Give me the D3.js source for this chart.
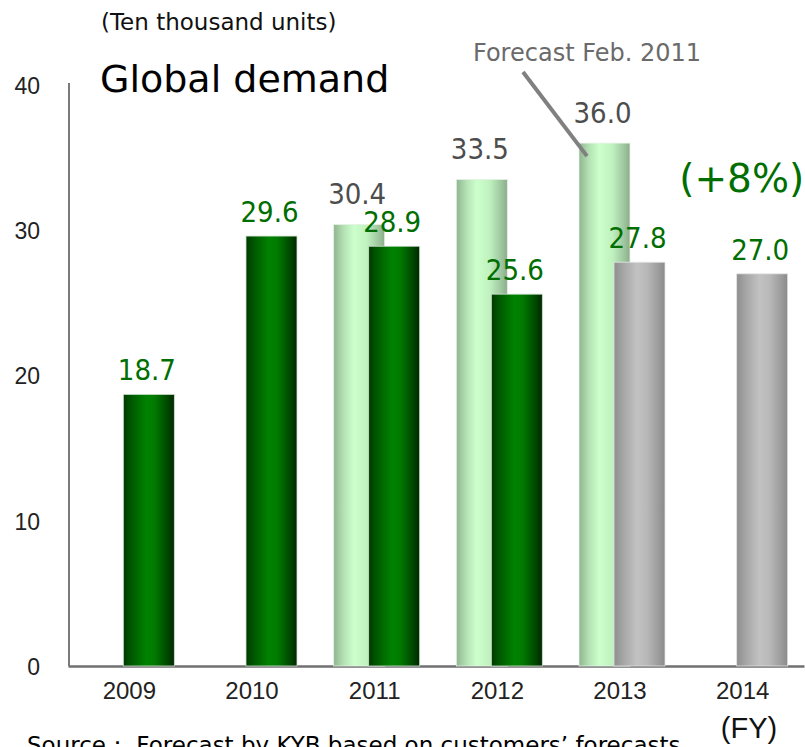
<!DOCTYPE html>
<html>
<head>
<meta charset="utf-8">
<script src="https://cdn.jsdelivr.net/npm/d3@7"></script>
<style>
  body { margin: 0; background: #fff; }
  svg { display: block; }
  .axis text { font-family: "Liberation Sans", Arial, sans-serif; fill: #222; }
  .dv { font-family: "DejaVu Sans", Tahoma, sans-serif; }
  .dvc { font-family: "DejaVu Sans Condensed", "DejaVu Sans", Tahoma, sans-serif; font-stretch: condensed; }
</style>
</head>
<body>
<div id="chart"><svg></svg></div>
<script>
// values
var years = ["2009", "2010", "2011", "2012", "2013", "2014"]
var forecastFeb2011 = [null, null, 30.4, 33.5, 36.0, null]
var demand = [18.7, 29.6, 28.9, 25.6, 27.8, 27.0]
var demandKind = ["result", "result", "result", "result", "outlook", "outlook"]
var yTicks = [0, 10, 20, 30, 40]

var screen = {width: 805, height: 747}
var barW = 51

var svg = d3.select("#chart svg")
    .attr("width", screen.width)
    .attr("height", screen.height)

var xScale = d3.scaleBand()
    .domain(years)
    .range([68, 804])

// left edge of each bar relative to the middle of its year
var seriesScale = d3.scalePoint()
    .domain(["forecast", "demand"])
    .range([-41, -6])

var yScale = d3.scaleLinear()
    .domain([0, 40])
    .range([666, 85])

var mid = function(year) { return xScale(year) + xScale.bandwidth() / 2 }

// gradients for the cylinders
var defs = svg.append("defs")
var makeGrad = function(id, stops)
{
    var g = defs.append("linearGradient").attr("id", id)
        .attr("x1", "0%").attr("x2", "100%").attr("y1", "0%").attr("y2", "0%")
    stops.forEach(function(s)
    {
        g.append("stop").attr("offset", s[0]).attr("stop-color", s[1])
    })
}
makeGrad("gDark", [["0%", "#003a00"], ["18%", "#005c00"], ["45%", "#008200"], ["62%", "#007a00"], ["88%", "#004400"], ["100%", "#002800"]])
makeGrad("gLight", [["0%", "#8fb58f"], ["20%", "#b5e2b5"], ["40%", "#ccffcc"], ["65%", "#c0f2c0"], ["90%", "#9cc29c"], ["100%", "#8aac8a"]])
makeGrad("gGray", [["0%", "#8e8e8e"], ["20%", "#a8a8a8"], ["45%", "#c2c2c2"], ["65%", "#b8b8b8"], ["90%", "#989898"], ["100%", "#8a8a8a"]])

// axes
var yAxis = d3.axisLeft(yScale).tickValues(yTicks).tickSize(0).tickSizeOuter(0).tickPadding(29)
var yG = svg.append("g").attr("class", "axis")
    .attr("transform", "translate(69,0)")
    .call(yAxis)
yG.select(".domain").attr("stroke", "#7a7a7a").attr("stroke-width", 2)
    .attr("d", "M0,83V" + yScale(0))
yG.selectAll("text").attr("font-size", 23).attr("dy", "0.36em")

var xAxis = d3.axisBottom(xScale).tickSize(0).tickSizeOuter(0).tickPadding(16)
var xG = svg.append("g").attr("class", "axis")
    .attr("transform", "translate(0,666)")
    .call(xAxis)
xG.select(".domain").attr("stroke", "#707070").attr("stroke-width", 2.5)
xG.selectAll("text").attr("font-size", 24)

// bars
var forecastData = years.map(function(y, i) { return {year: y, value: forecastFeb2011[i]} })
    .filter(function(d) { return d.value != null })
var demandData = years.map(function(y, i) { return {year: y, value: demand[i], kind: demandKind[i]} })

svg.append("g").selectAll("rect")
    .data(forecastData)
    .enter()
    .append("rect")
    .attr("x", function(d) { return mid(d.year) + seriesScale("forecast") })
    .attr("y", function(d) { return yScale(d.value) })
    .attr("width", barW)
    .attr("height", function(d) { return yScale(0) - yScale(d.value) })
    .attr("fill", "url(#gLight)")
    .attr("stroke", "#e6f2e6")
    .attr("stroke-width", 0.8)

svg.append("g").selectAll("rect")
    .data(demandData)
    .enter()
    .append("rect")
    .attr("x", function(d) { return mid(d.year) + seriesScale("demand") })
    .attr("y", function(d) { return yScale(d.value) })
    .attr("width", barW)
    .attr("height", function(d) { return yScale(0) - yScale(d.value) })
    .attr("fill", function(d) { return d.kind == "result" ? "url(#gDark)" : "url(#gGray)" })
    .attr("stroke", function(d) { return d.kind == "result" ? "#cfe0cf" : "#e4e4e4" })
    .attr("stroke-width", 0.8)

// value labels
svg.append("g").selectAll("text")
    .data(forecastData)
    .enter()
    .append("text")
    .attr("class", "dvc")
    .attr("x", function(d) { return mid(d.year) + seriesScale("forecast") + barW / 2 - 2 })
    .attr("y", function(d) { return yScale(d.value) - 20 })
    .attr("text-anchor", "middle")
    .attr("font-size", 29)
    .attr("fill", "#4d4d4d")
    .text(function(d) { return d.value.toFixed(1) })

svg.append("g").selectAll("text")
    .data(demandData)
    .enter()
    .append("text")
    .attr("class", "dvc")
    .attr("x", function(d) { return mid(d.year) + seriesScale("demand") + barW / 2 - 2 })
    .attr("y", function(d) { return yScale(d.value) - 14 })
    .attr("text-anchor", "middle")
    .attr("font-size", 29)
    .attr("fill", "#006e00")
    .text(function(d) { return d.value.toFixed(1) })

// annotation for the Feb. 2011 forecast
var peak = forecastData[forecastData.length - 1]
var peakX = mid(peak.year) + seriesScale("forecast")
svg.append("line")
    .attr("x1", peakX - 56).attr("y1", 72)
    .attr("x2", peakX + 8).attr("y2", yScale(peak.value) + 13)
    .attr("stroke", "#808080")
    .attr("stroke-width", 4)
svg.append("text")
    .attr("class", "dv")
    .attr("x", peakX + 8).attr("y", 61)
    .attr("text-anchor", "middle")
    .attr("font-size", 24)
    .attr("fill", "#6a6a6a")
    .text("Forecast Feb. 2011")

svg.append("text")
    .attr("class", "dv")
    .attr("x", mid("2014") - 1).attr("y", 192)
    .attr("text-anchor", "middle")
    .attr("font-size", 39)
    .attr("fill", "#006e00")
    .text("(+8%)")

// titles
svg.append("text")
    .attr("class", "dv")
    .attr("x", 101).attr("y", 30)
    .attr("font-size", 23)
    .attr("fill", "#111")
    .text("(Ten thousand units)")

svg.append("text")
    .attr("class", "dv")
    .attr("x", 100).attr("y", 92)
    .attr("font-size", 38)
    .attr("fill", "#000")
    .text("Global demand")

svg.append("text")
    .attr("x", 749).attr("y", 738)
    .attr("text-anchor", "middle")
    .attr("font-family", "Liberation Sans, Arial, sans-serif")
    .attr("font-size", 29)
    .attr("fill", "#111")
    .text("(FY)")

svg.append("text")
    .attr("class", "dv")
    .attr("x", 27).attr("y", 753)
    .attr("font-size", 23)
    .attr("fill", "#000")
    .text("Source\uFF1A Forecast by KYB based on customers\u2019 forecasts")
</script>
</body>
</html>
